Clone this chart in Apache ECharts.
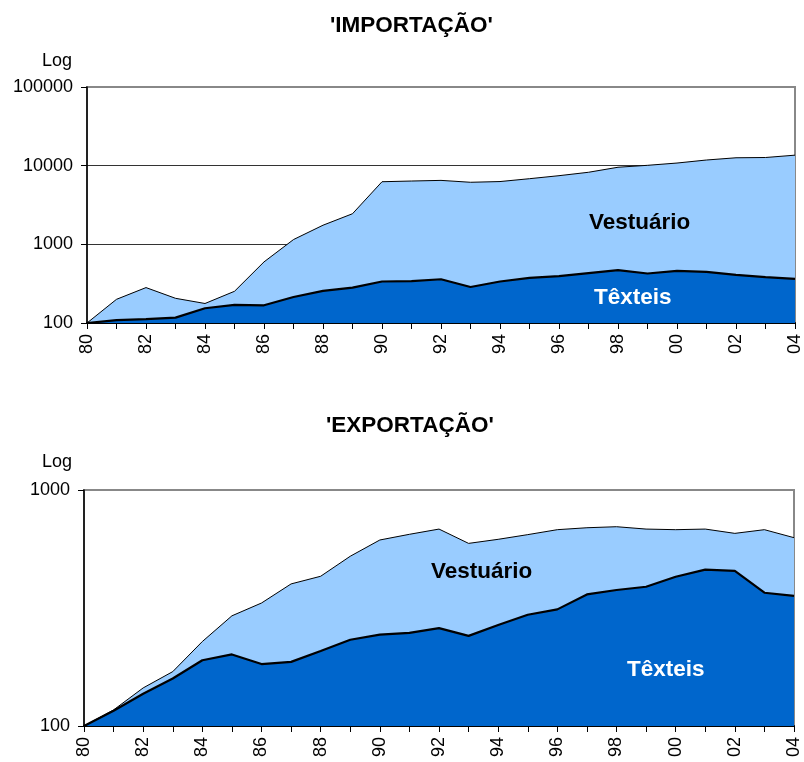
<!DOCTYPE html>
<html>
<head>
<meta charset="utf-8">
<script src="https://cdn.jsdelivr.net/npm/echarts@6/dist/echarts.min.js"></script>
<style>
  html, body { margin: 0; padding: 0; background: #fff; }
  #chart_con { width: 804px; height: 762px; }
</style>
</head>
<body>
<div id="chart_con"></div>
<script>
// anos 1980..2004 (rótulos de dois dígitos)
var anos = ['80','81','82','83','84','85','86','87','88','89','90','91','92',
            '93','94','95','96','97','98','99','00','01','02','03','04'];

// IMPORTAÇÃO (índice, base 1980 = 100)
var impVestuario = [100, 200, 282, 206, 177, 253, 598, 1150, 1750, 2450, 6250, 6380, 6500,
                    6150, 6280, 6830, 7460, 8240, 9550, 10100, 10800, 11800, 12600, 12700, 13600];
var impTexteis = [100, 109, 112, 117, 154, 170, 168, 214, 256, 282, 337, 340, 360,
                  287, 337, 374, 394, 430, 469, 426, 460, 446, 409, 382, 363];

// EXPORTAÇÃO
var expVestuario = [100, 117, 145, 170, 228, 293, 332, 400, 431, 524, 614, 649, 683,
                    594, 618, 647, 679, 692, 699, 683, 679, 683, 655, 679, 628];
var expTexteis = [100, 116, 137, 159, 190, 201, 183, 187, 208, 232, 244, 248, 260,
                  241, 268, 296, 312, 361, 377, 389, 429, 460, 454, 367, 356];

var FONT = "'Liberation Sans', Arial, sans-serif";
var CLARO = '#99CCFF';
var ESCURO = '#0066CC';

function eixoX(gridIndex) {
  return {
    type: 'category',
    gridIndex: gridIndex,
    data: anos,
    boundaryGap: false,
    axisLine: { lineStyle: { color: '#000', width: 2 } },
    axisTick: { show: true, interval: 0, length: 6, lineStyle: { color: '#000', width: 1 } },
    axisLabel: {
      interval: 1, rotate: 90, margin: 11,
      fontFamily: FONT, fontSize: 18, color: '#000'
    },
    splitLine: { show: false }
  };
}

function eixoY(gridIndex, max, grade) {
  return {
    type: 'log',
    logBase: 10,
    gridIndex: gridIndex,
    min: 100,
    max: max,
    axisLine: { show: true, lineStyle: { color: '#000', width: 1.5 } },
    axisTick: { show: true, length: 6, lineStyle: { color: '#000', width: 1 } },
    axisLabel: {
      margin: 14, fontFamily: FONT, fontSize: 18, color: '#000',
      formatter: function (v) { return String(Math.round(v)); }
    },
    splitLine: {
      show: grade, showMinLine: false, showMaxLine: false,
      lineStyle: { color: '#333', width: 1 }
    }
  };
}

function serie(nome, idx, dados, cor, largura) {
  return {
    name: nome,
    type: 'line',
    xAxisIndex: idx,
    yAxisIndex: idx,
    data: dados,
    symbol: 'none',
    smooth: false,
    lineStyle: { color: '#000', width: largura },
    areaStyle: { color: cor, opacity: 1, origin: 'start' },
    silent: true
  };
}

var chart = echarts.init(document.getElementById('chart_con'), null, { renderer: 'canvas' });

var option = {
  animation: false,
  backgroundColor: '#fff',
  grid: [
    { left: 87, top: 87, width: 711, height: 236, show: true,
      borderColor: '#888', borderWidth: 2, backgroundColor: 'transparent' },
    { left: 84, top: 490, width: 710, height: 236, show: true,
      borderColor: '#888', borderWidth: 2, backgroundColor: 'transparent' }
  ],
  xAxis: [eixoX(0), eixoX(1)],
  yAxis: [eixoY(0, 100000, true), eixoY(1, 1000, false)],
  series: [
    serie('Vestuário', 0, impVestuario, CLARO, 1),
    serie('Têxteis', 0, impTexteis, ESCURO, 2.2),
    serie('Vestuário', 1, expVestuario, CLARO, 1),
    serie('Têxteis', 1, expTexteis, ESCURO, 2.2)
  ],
  graphic: [
    { type: 'text', left: 330, top: 14, z: 100,
      style: { text: "'IMPORTAÇÃO'", fontFamily: FONT, fontSize: 22.5, fontWeight: 'bold', fill: '#000' } },
    { type: 'text', left: 326, top: 414, z: 100,
      style: { text: "'EXPORTAÇÃO'", fontFamily: FONT, fontSize: 22.5, fontWeight: 'bold', fill: '#000' } },
    { type: 'text', left: 42, top: 52, z: 100,
      style: { text: 'Log', fontFamily: FONT, fontSize: 18, fill: '#000' } },
    { type: 'text', left: 42, top: 453, z: 100,
      style: { text: 'Log', fontFamily: FONT, fontSize: 18, fill: '#000' } },
    { type: 'text', left: 589, top: 211, z: 100,
      style: { text: 'Vestuário', fontFamily: FONT, fontSize: 22.5, fontWeight: 'bold', fill: '#000' } },
    { type: 'text', left: 594, top: 286, z: 100,
      style: { text: 'Têxteis', fontFamily: FONT, fontSize: 22.5, fontWeight: 'bold', fill: '#fff' } },
    { type: 'text', left: 431, top: 560, z: 100,
      style: { text: 'Vestuário', fontFamily: FONT, fontSize: 22.5, fontWeight: 'bold', fill: '#000' } },
    { type: 'text', left: 627, top: 658, z: 100,
      style: { text: 'Têxteis', fontFamily: FONT, fontSize: 22.5, fontWeight: 'bold', fill: '#fff' } }
  ]
};

chart.setOption(option);
</script>
</body>
</html>
